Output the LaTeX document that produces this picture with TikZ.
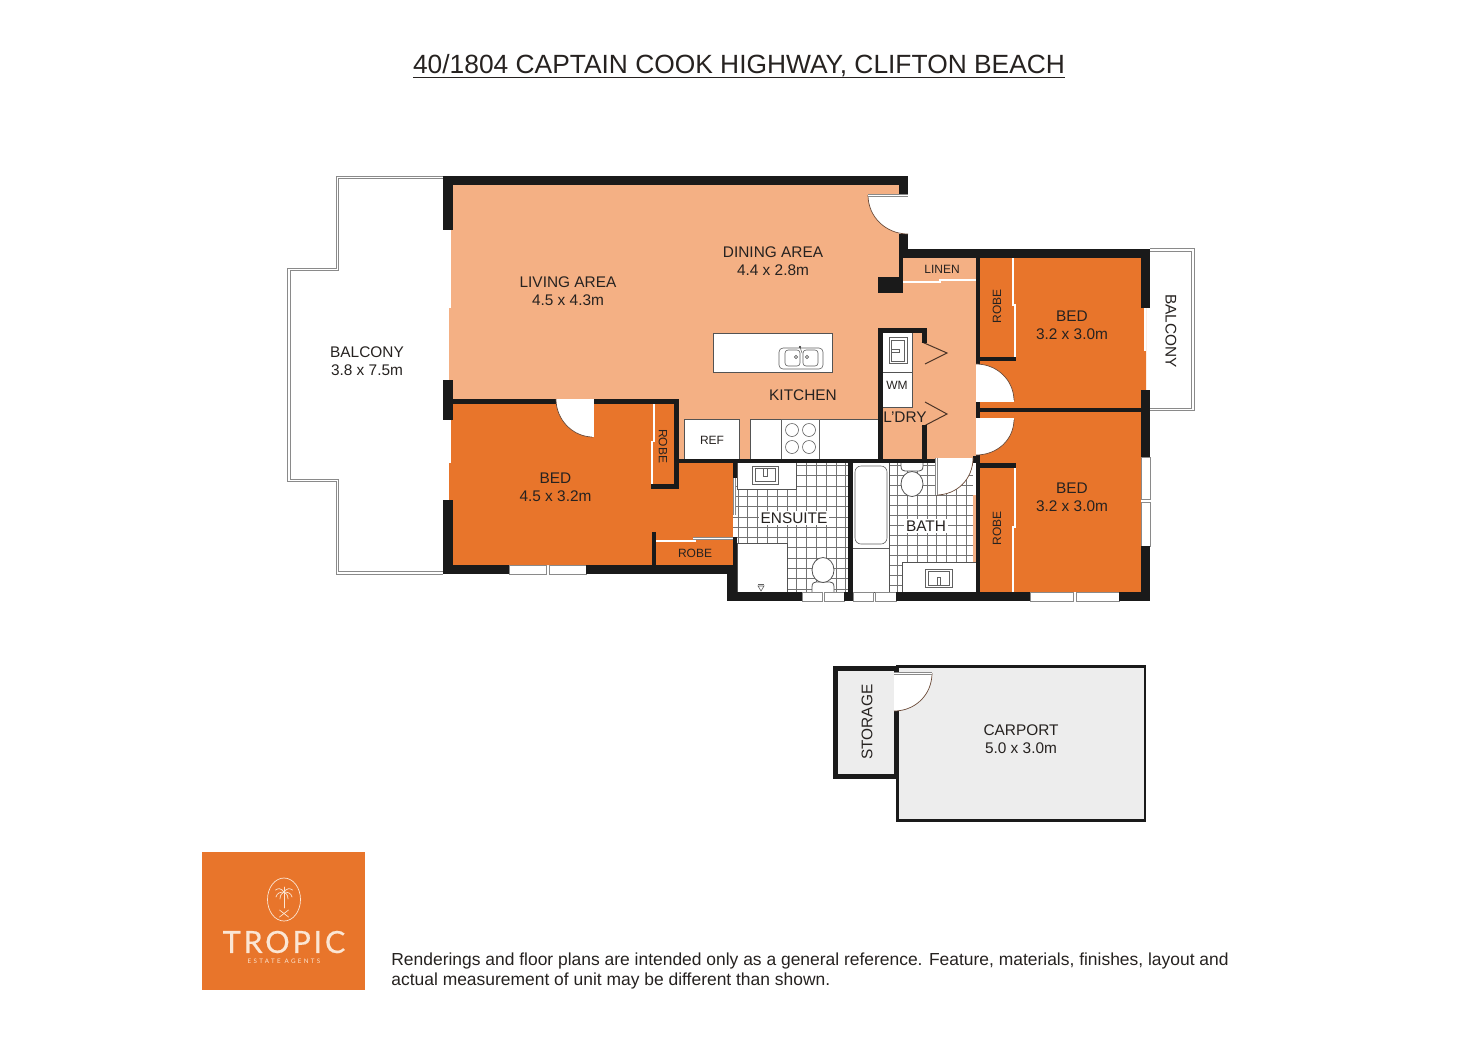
\documentclass[tikz,border=0pt]{standalone}
\usepackage{fontspec}
\setmainfont{Liberation Sans}
\newfontfamily\logofont[LetterSpace=9,FakeBold=0.4]{Lato}
\newfontfamily\logosmall[LetterSpace=38]{Lato}
\definecolor{peach}{HTML}{F4B084}
\definecolor{orng}{HTML}{E8752B}
\definecolor{wallc}{HTML}{1A1A1A}
\definecolor{txt}{HTML}{262220}
\definecolor{car}{HTML}{EDEDED}
\definecolor{cream}{HTML}{FBE6D4}
\definecolor{railc}{HTML}{8A8A8A}
\definecolor{arcc}{HTML}{6B4A38}
\tikzset{
  lbl/.style={inner sep=0pt,text=txt,align=center,font=\fontsize{7.7pt}{9pt}\selectfont},
  smalllbl/.style={inner sep=0pt,text=txt,align=center,font=\fontsize{6pt}{7pt}\selectfont},
  fixture/.style={draw=railc!60!black,line width=.4pt,fill=white},
  detail/.style={draw=railc!70!black,line width=.3pt},
  rail/.style={draw=railc,line width=.45pt,double=white,double distance=.7pt},
  slidedoor/.style={draw=railc,line width=.25pt,double=white,double distance=.55pt},
  swing/.style={draw=arcc,line width=.35pt},
  win/.style={draw=railc,line width=.5pt,fill=white},
  tileline/.style={draw=black!55,line width=.4pt},
  bifold/.style={draw=arcc!70!black,line width=.5pt},
  logoline/.style={draw=cream,line width=.35pt,line cap=round},
}
\newcommand{\wl}[4]{\fill[wallc] (#1,#2) rectangle (#3,#4);}
\begin{document}
\begin{tikzpicture}[x=0.5pt,y=-0.5pt]
\useasboundingbox (0,0) rectangle (1472,1040);
\fill[white] (0,0) rectangle (1472,1040);
% title
\node[inner sep=0pt,text=txt,font=\fontsize{13.18pt}{16pt}\selectfont] (title) at (739,66) {40/1804 CAPTAIN COOK HIGHWAY, CLIFTON BEACH};
\draw[txt,line width=.5pt] (413,77.5) -- (1065,77.5);
% balconies
\draw[rail] (443,177.5) -- (337.5,177.5) -- (337.5,269.5) -- (289,269.5) -- (289,480.5) -- (337.5,480.5) -- (337.5,573) -- (443,573);
\draw[rail] (1150,250) -- (1193,250) -- (1193,409.5) -- (1150,409.5);
% floors
\fill[peach] (453,185) -- (899,185) -- (899,281) -- (976,281) -- (976,459) -- (678,459) -- (678,399) -- (449,399) -- (449,230) -- (453,230) -- cycle;
\fill[peach] (903,258) rectangle (976,281);
\fill[orng] (449,404) -- (674,404) -- (674,463) -- (733,463) -- (733,565) -- (453,565) -- (453,500) -- (449,500) -- cycle;
\fill[orng] (980,258) -- (1141,258) -- (1141,308) -- (1146,308) -- (1146,390) -- (1141,390) -- (1141,408) -- (980,408) -- cycle;
\fill[orng] (980,412) rectangle (1141,592);
\fill[peach] (973,495) rectangle (976.5,562);
% tiles
\fill[white] (733,463) rectangle (848,592);
\fill[white] (852,463) rectangle (973,592);
\begin{scope}
\clip (733,463) rectangle (848,592);
\foreach \i in {0,...,12} {\draw[tileline] ({738+9.8*\i},463) -- ({738+9.8*\i},592);}
\foreach \i in {0,...,12} {\draw[tileline] (733,{465.4+10.3*\i}) -- (848,{465.4+10.3*\i});}
\end{scope}
\begin{scope}
\clip (889,463) rectangle (973,592);
\foreach \i in {0,...,9} {\draw[tileline] ({888+9.75*\i},463) -- ({888+9.75*\i},592);}
\foreach \i in {0,...,13} {\draw[tileline] (889,{465.7+10*\i}) -- (973,{465.7+10*\i});}
\end{scope}
% ensuite fixtures
\draw[fixture] (737,462) rectangle (796,489);
\draw[detail] (752,466) rectangle (778,484);
\draw[detail] (755,468.5) rectangle (775,481.5);
\draw[detail] (763.5,468.5) rectangle (767,476);
\draw[fixture] (737,543) rectangle (787,592);
\draw[detail] (758,586) -- (764,586) -- (761,591) -- cycle;
\draw[detail] (758,584) -- (764,584);
\draw[fixture] (812,592) -- (812,587) .. controls (812,583) and (814,582) .. (816,582) -- (830,582) .. controls (832,582) and (834,583) .. (834,587) -- (834,592);
\draw[fixture] (823,570) ellipse [x radius=11,y radius=12.5];
% bath fixtures
\draw[fixture] (852,462) rectangle (889,592);
\draw[detail] (852,548) -- (889,548);
\draw[detail,rounded corners=3pt] (855,466) rectangle (887,544);
\draw[fixture] (901,462) -- (901,466) .. controls (901,470) and (903,471) .. (905,471) -- (919,471) .. controls (921,471) and (923,470) .. (923,466) -- (923,462);
\draw[fixture] (912,484) ellipse [x radius=11,y radius=12.5];
\draw[fixture] (902,562) rectangle (976,592);
\draw[detail] (925,569) rectangle (952,587);
\draw[detail] (928,571.5) rectangle (949,585);
\draw[detail] (937,577) rectangle (940,585);
% kitchen
\draw[fixture] (713,333) rectangle (832,372);
\draw[detail,rounded corners=2pt] (779,348) rectangle (823,369);
\draw[detail,rounded corners=1.5pt] (785,350) rectangle (800,366);
\draw[detail,rounded corners=1.5pt] (803,350) rectangle (818,366);
\draw[detail] (796,357) circle [radius=1.6];
\draw[detail] (807,357) circle [radius=1.6];
\fill[wallc] (800,347) circle [radius=1.2];
\draw[detail] (800,347) -- (802,353);
\draw[fixture] (684,419) rectangle (739,459);
\draw[fixture] (750,419) rectangle (878,459);
\draw[detail] (781,419) rectangle (819,459);
\draw[detail] (792,430) circle [radius=6.5];
\draw[detail] (809,430) circle [radius=6.5];
\draw[detail] (792,447) circle [radius=6.5];
\draw[detail] (809,447) circle [radius=6.5];
% laundry
\draw[fixture] (882,332) rectangle (912,372);
\draw[detail] (889,337) rectangle (907,363);
\draw[detail] (891.5,340) rectangle (904.5,361);
\draw[detail] (891,349) rectangle (899,352);
\draw[fixture] (882,372) rectangle (912,407);
\draw[bifold] (922,342) -- (947,353) -- (925,364);
\draw[bifold] (925,402) -- (947,414) -- (922,427);
% windows
\draw[win] (509,565) rectangle (546,574);
\draw[win] (549,565) rectangle (586,574);
\draw[win] (802,592) rectangle (822,601);
\draw[win] (824,592) rectangle (844,601);
\draw[win] (853,592) rectangle (873,601);
\draw[win] (875,592) rectangle (896,601);
\draw[win] (1030,592) rectangle (1073,601);
\draw[win] (1076,592) rectangle (1119,601);
\draw[win] (1141,457) rectangle (1150,499);
\draw[win] (1141,502) rectangle (1150,546);
% sliding doors
\draw[slidedoor] (450,230) -- (450,308);
\draw[slidedoor] (447,302) -- (447,380);
\draw[slidedoor] (450,420) -- (450,463);
\draw[slidedoor] (447,458) -- (447,500);
\draw[slidedoor] (1145,308) -- (1145,351);
\draw[slidedoor] (1148,348) -- (1148,390);
\draw[slidedoor] (654,404) -- (654,442);
\draw[slidedoor] (652,441) -- (652,484);
\draw[slidedoor] (656,541) -- (696,541);
\draw[slidedoor] (693,538.5) -- (733,538.5);
\draw[slidedoor] (903,282) -- (941,282);
\draw[slidedoor] (939,280) -- (976,280);
\draw[slidedoor] (1013,258) -- (1013,306);
\draw[slidedoor] (1015,304) -- (1015,357);
\draw[slidedoor] (1015,468) -- (1015,528);
\draw[slidedoor] (1013,526) -- (1013,592);
\draw[slidedoor] (734.5,477) -- (734.5,515);
% walls
\wl{443}{176}{908}{185}
\wl{443}{176}{453}{230}
\wl{443}{380}{453}{420}
\wl{443}{500}{453}{574}
\wl{443}{565}{509}{574}
\wl{586}{565}{737}{574}
\wl{453}{399}{556}{404}
\wl{594}{399}{678.5}{404}
\wl{674}{399}{678.5}{489}
\wl{651}{484}{678.5}{489}
\wl{674}{458.5}{935}{462.5}
\wl{733}{459}{737}{478}
\wl{733}{537}{737}{574}
\wl{652}{532}{656}{565}
\wl{727}{574}{737}{601}
\wl{727}{592}{802}{601}
\wl{844}{592}{853}{601}
\wl{896}{592}{1030}{601}
\wl{1119}{592}{1150}{601}
\wl{848}{461}{852.5}{592}
\wl{899}{176}{908}{194}
\wl{899}{234}{908}{258}
\wl{899}{249}{1150}{258}
\wl{899}{249}{903}{293}
\wl{878}{277}{903}{293}
\wl{1141}{249}{1150}{308}
\wl{1141}{390}{1150}{457}
\wl{1141}{546}{1150}{601}
\wl{976}{258}{980}{365}
\wl{976}{357}{1016}{361}
\wl{976}{402}{980}{418}
\wl{976}{408}{1141}{412}
\wl{973}{456}{980}{463}
\wl{976}{455}{980}{592}
\wl{976}{463}{1016}{468}
\wl{878}{328}{927}{333}
\wl{878}{328}{882.5}{459}
\wl{922}{328}{927}{343}
\wl{922}{425}{927}{459}
% doors
\fill[white] (868,195) .. controls (868,217) and (886,234) .. (908,234) -- (908,195) -- cycle;
\draw[swing] (868,195) .. controls (868,217) and (886,234) .. (908,234);
\draw[slidedoor] (868,195.5) -- (908,195.5);
\fill[white] (556,399) .. controls (556,420) and (573,437) .. (593,437) -- (593,399) -- cycle;
\draw[swing] (556,399) .. controls (556,420) and (573,437) .. (593,437);
\draw[slidedoor] (593,399) -- (593,437);
\fill[white] (976,364) .. controls (997,364) and (1014,380) .. (1014,401) -- (976,401) -- cycle;
\draw[swing] (976,364) .. controls (997,364) and (1014,380) .. (1014,401);
\draw[slidedoor] (976,401) -- (1014,401);
\fill[white] (976,455) .. controls (997,455) and (1014,440) .. (1014,419) -- (976,419) -- cycle;
\draw[swing] (976,455) .. controls (997,455) and (1014,440) .. (1014,419);
\draw[slidedoor] (976,419) -- (1014,419);
\fill[white] (936,495) .. controls (957,495) and (973,479) .. (973,458) -- (936,458) -- cycle;
\draw[swing] (936,495) .. controls (957,495) and (973,479) .. (973,458);
\draw[slidedoor] (936.5,458) -- (936.5,495);
% carport & storage
\draw[fill=car,draw=wallc,line width=1.2pt] (897.5,666.5) rectangle (1145,820.5);
\fill[wallc] (833,666) rectangle (898,779);
\fill[car] (838,671) rectangle (894,774);
\fill[white] (894,711) .. controls (915,711) and (932,695) .. (932,673) -- (894,673) -- cycle;
\draw[swing] (894,711) .. controls (915,711) and (932,695) .. (932,673);
\draw[slidedoor] (894,673.5) -- (932,673.5);
% labels
\node[lbl] (living) at (568,291) {LIVING AREA\\4.5 x 4.3m};
\node[lbl] (dining) at (773,261) {DINING AREA\\4.4 x 2.8m};
\node[lbl] (balconyl) at (367,361) {BALCONY\\3.8 x 7.5m};
\node[lbl] (bedone) at (555.5,487.5) {BED\\4.5 x 3.2m};
\node[lbl] (bedtwo) at (1072,325) {BED\\3.2 x 3.0m};
\node[lbl] (bedthree) at (1072,497) {BED\\3.2 x 3.0m};
\node[lbl] (kitchen) at (803,395) {KITCHEN};
\node[lbl] (ldry) at (905,417) {L’DRY};
\node[lbl,fill=white,inner sep=1pt] (ensuite) at (794,518) {ENSUITE};
\node[lbl,fill=white,inner sep=1pt] (bath) at (926,526) {BATH};
\node[lbl] (carport) at (1021,739.5) {CARPORT\\5.0 x 3.0m};
\node[lbl,rotate=90] (storage) at (867,722) {STORAGE};
\node[lbl,rotate=-90] (balconyr) at (1171,331) {BALCONY};
\node[smalllbl] (linen) at (942,269) {LINEN};
\node[smalllbl] (ref) at (712,440) {REF};
\node[smalllbl] (wm) at (897,385.5) {WM};
\node[smalllbl] (robea) at (695,553) {ROBE};
\node[smalllbl,rotate=-90] (robeb) at (663,446) {ROBE};
\node[smalllbl,rotate=90] (robec) at (997,306) {ROBE};
\node[smalllbl,rotate=90] (robed) at (997,528) {ROBE};
% logo
\fill[orng] (202,852) rectangle (365,990);
\draw[logoline] (284,899.5) ellipse [x radius=16.5,y radius=21.5];
\draw[logoline] (284,893) -- (284,908);
\draw[logoline] (284,892) .. controls (281,888) and (278,888) .. (275.5,890);
\draw[logoline] (284,892) .. controls (287,888) and (290,888) .. (292.5,890);
\draw[logoline] (284,892) .. controls (280,892) and (277,893) .. (276,897);
\draw[logoline] (284,892) .. controls (288,892) and (291,893) .. (292,897);
\draw[logoline] (284,892) .. controls (282,893) and (280,895) .. (280,899);
\draw[logoline] (284,892) .. controls (286,893) and (288,895) .. (288,899);
\draw[logoline] (284,892) -- (284,887);
\draw[logoline] (279.5,910) -- (288.5,917);
\draw[logoline] (288.5,910) -- (279.5,917);
\node[inner sep=0pt,text=cream,font=\logofont\fontsize{15.3pt}{16pt}\selectfont] (tropic) at (284,942) {TROPIC};
\node[inner sep=0pt,text=cream,font=\logosmall\fontsize{3.1pt}{3.2pt}\selectfont] (agents) at (284,961.5) {ESTATE AGENTS};
% disclaimer
\node[inner sep=0pt,anchor=west,align=left,text=txt,font=\fontsize{8.72pt}{10.1pt}\selectfont] (note) at (391,971) {Renderings and floor plans are intended only as a general reference. Feature, materials, finishes, layout and\\actual measurement of unit may be different than shown.};
\end{tikzpicture}
\end{document}
